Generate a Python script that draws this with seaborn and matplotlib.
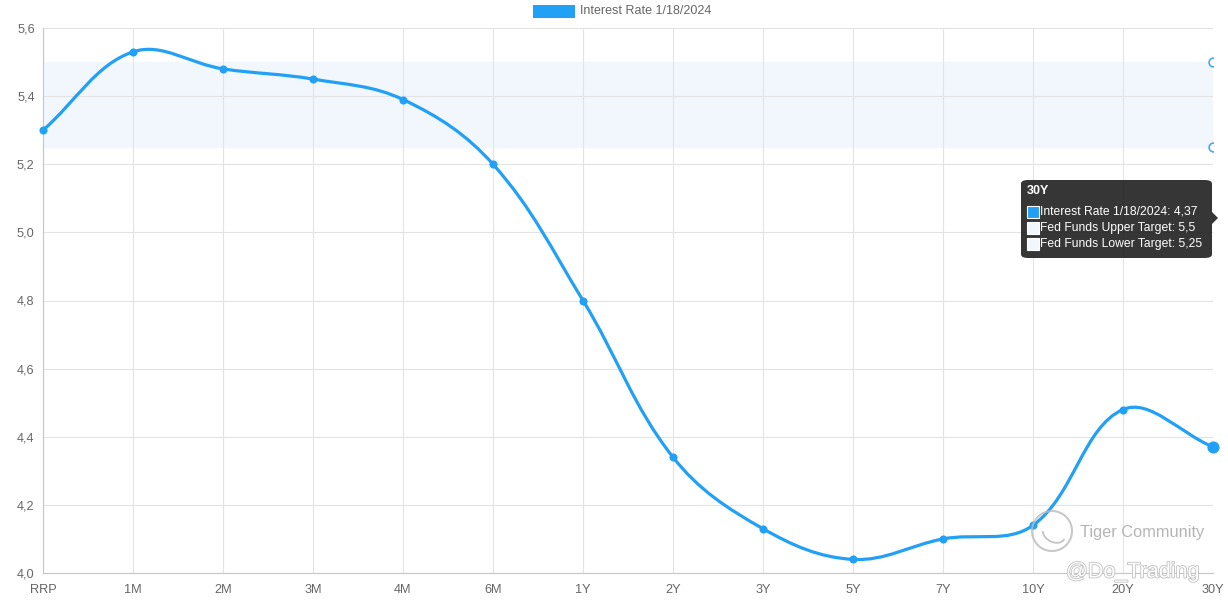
import numpy as np
import pandas as pd
import matplotlib
matplotlib.use("Agg")
import matplotlib.pyplot as plt
import matplotlib.patheffects as pe
import seaborn as sns
from matplotlib.path import Path
from matplotlib.patches import PathPatch, FancyBboxPatch, Rectangle, Polygon, Circle, Arc
from matplotlib.transforms import IdentityTransform
from matplotlib.ticker import FuncFormatter

# data
tenors = ["RRP", "1M", "2M", "3M", "4M", "6M", "1Y", "2Y", "3Y", "5Y", "7Y", "10Y", "20Y", "30Y"]
rates = [5.30, 5.53, 5.48, 5.45, 5.39, 5.20, 4.80, 4.34, 4.13, 4.04, 4.10, 4.14, 4.48, 4.37]
fed_upper = 5.5
fed_lower = 5.25
series_label = "Interest Rate 1/18/2024"

BLUE = "#22a0f5"
W, H = 1228, 600

sns.set_theme(style="white")
plt.rcParams["font.family"] = ["Liberation Sans", "DejaVu Sans"]

fig = plt.figure(figsize=(W / 100, H / 100), dpi=100)
x0, x1, y0, y1 = 43, 1213, 28, 573
ax = fig.add_axes([x0 / W, 1 - y1 / H, (x1 - x0) / W, (y1 - y0) / H])

df = pd.DataFrame({"pos": np.arange(len(tenors)), "rate": rates})
ax.set_xlim(0, len(tenors) - 1)
ax.set_ylim(4.0, 5.6)

# fed funds band
ax.axhspan(fed_lower, fed_upper, color="#f2f7fe", zorder=0)

# smooth line like chart.js (tension), control points computed in pixel space
sx = (x1 - x0) / (len(tenors) - 1)
sy = (y1 - y0) / 1.6
px = df["pos"].values * sx
py = df["rate"].values * sy
n = len(px)
t = 0.37
cps = []
for i in range(n):
    p0 = (px[max(i - 1, 0)], py[max(i - 1, 0)])
    p2 = (px[min(i + 1, n - 1)], py[min(i + 1, n - 1)])
    d01 = np.hypot(px[i] - p0[0], py[i] - p0[1])
    d12 = np.hypot(p2[0] - px[i], p2[1] - py[i])
    tot = d01 + d12 if d01 + d12 > 0 else 1
    fa = t * d01 / tot
    fb = t * d12 / tot
    prev_cp = (px[i] - fa * (p2[0] - p0[0]), py[i] - fa * (p2[1] - p0[1]))
    next_cp = (px[i] + fb * (p2[0] - p0[0]), py[i] + fb * (p2[1] - p0[1]))
    cps.append((prev_cp, next_cp))

verts = [(px[0] / sx, py[0] / sy)]
codes = [Path.MOVETO]
for i in range(1, n):
    c1 = cps[i - 1][1]
    c2 = cps[i][0]
    verts += [(c1[0] / sx, c1[1] / sy), (c2[0] / sx, c2[1] / sy), (px[i] / sx, py[i] / sy)]
    codes += [Path.CURVE4] * 3
ax.add_patch(PathPatch(Path(verts, codes), fill=False, edgecolor=BLUE, lw=2.3,
                       capstyle="round", joinstyle="round", zorder=3))

sns.scatterplot(data=df.iloc[:-1], x="pos", y="rate", color=BLUE, s=34, edgecolor=BLUE,
                linewidth=0, ax=ax, zorder=4, legend=False, clip_on=False)
# hovered point
ax.scatter([df["pos"].iloc[-1]], [df["rate"].iloc[-1]], s=60, color=BLUE, zorder=4, clip_on=False)
# fed funds hovered markers (hollow)
ax.scatter([len(tenors) - 1] * 2, [fed_upper, fed_lower], s=40, facecolor="white",
           edgecolor="#4aa8f0", linewidth=1.2, zorder=4)

# axes styling
ax.set_xticks(df["pos"])
ax.set_xticklabels(tenors)
ax.set_yticks(np.arange(4.0, 5.61, 0.2))
ax.yaxis.set_major_formatter(FuncFormatter(lambda v, p: f"{v:.1f}".replace(".", ",")))
ax.grid(True, color="#e3e3e3", lw=0.8)
ax.set_axisbelow(True)
for s in ["top", "right"]:
    ax.spines[s].set_visible(False)
for s in ["left", "bottom"]:
    ax.spines[s].set_color("#c6c6c6")
    ax.spines[s].set_linewidth(0.8)
ax.tick_params(axis="y", length=4, color="#d8d8d8", labelsize=9.2, labelcolor="#666666", pad=2)
ax.tick_params(axis="x", length=0, labelsize=9.2, labelcolor="#666666", pad=8)
ax.set_xlabel("")
ax.set_ylabel("")

# legend at top (pixel coords)
def fx(x):
    return x / W

def fy(y):
    return 1 - y / H

fig.patches.append(Rectangle((fx(533), fy(18)), 42 / W, 13 / H, transform=fig.transFigure,
                             facecolor=BLUE, edgecolor="none"))
fig.text(fx(580), fy(11.5), series_label, fontsize=9, color="#666666", va="center", ha="left")

# tooltip
fig.patches.append(FancyBboxPatch((fx(1021), fy(258)), 191 / W, 78 / H,
                                  boxstyle="round,pad=0,rounding_size=0.006",
                                  transform=fig.transFigure, facecolor="#1a1a1a",
                                  alpha=0.88, edgecolor="none", zorder=10))
fig.patches.append(Polygon([(fx(1212), fy(212)), (fx(1218), fy(218)), (fx(1212), fy(224))],
                           closed=True, transform=fig.transFigure, facecolor="#1a1a1a",
                           alpha=0.88, edgecolor="none", zorder=10))
fig.text(fx(1027), fy(191), "30Y", fontsize=9, color="white", fontweight="bold",
         va="center", ha="left", zorder=11)
rows = [(f"{series_label}: 4,37", BLUE),
        (f"Fed Funds Upper Target: {fed_upper}".replace(".", ","), "#f2f7fe"),
        (f"Fed Funds Lower Target: {fed_lower}".replace(".", ","), "#f2f7fe")]
for k, (txt, col) in enumerate(rows):
    yy = 212 + k * 16
    fig.patches.append(Rectangle((fx(1027), fy(yy + 6)), 12 / W, 12 / H, transform=fig.transFigure,
                                 facecolor=col, edgecolor="white", lw=0.8, zorder=11))
    fig.text(fx(1040), fy(yy), txt, fontsize=8.7, color="white", va="center", ha="left", zorder=11)

# watermark
idt = IdentityTransform()
fig.patches.append(Circle((1052, H - 531), 20, transform=idt, fill=False,
                          edgecolor="#bbbbbb", lw=1.5, alpha=0.8, zorder=9))
fig.patches.append(Arc((1054, H - 533), 24, 18, angle=-30, theta1=200, theta2=360, transform=idt,
                       edgecolor="#c4c4c4", lw=1.3, zorder=9))
fig.text(fx(1080), fy(532), "Tiger Community", fontsize=11.8, color="#b5b5b5", va="center",
         ha="left", zorder=9)
fig.text(fx(1066), fy(572), "@Do_Trading", fontsize=15.5, color="white", va="center", ha="left",
         zorder=9, path_effects=[pe.withStroke(linewidth=1.2, foreground="#c0c0c0")])

fig.savefig("out.png", dpi=100, facecolor="white")
